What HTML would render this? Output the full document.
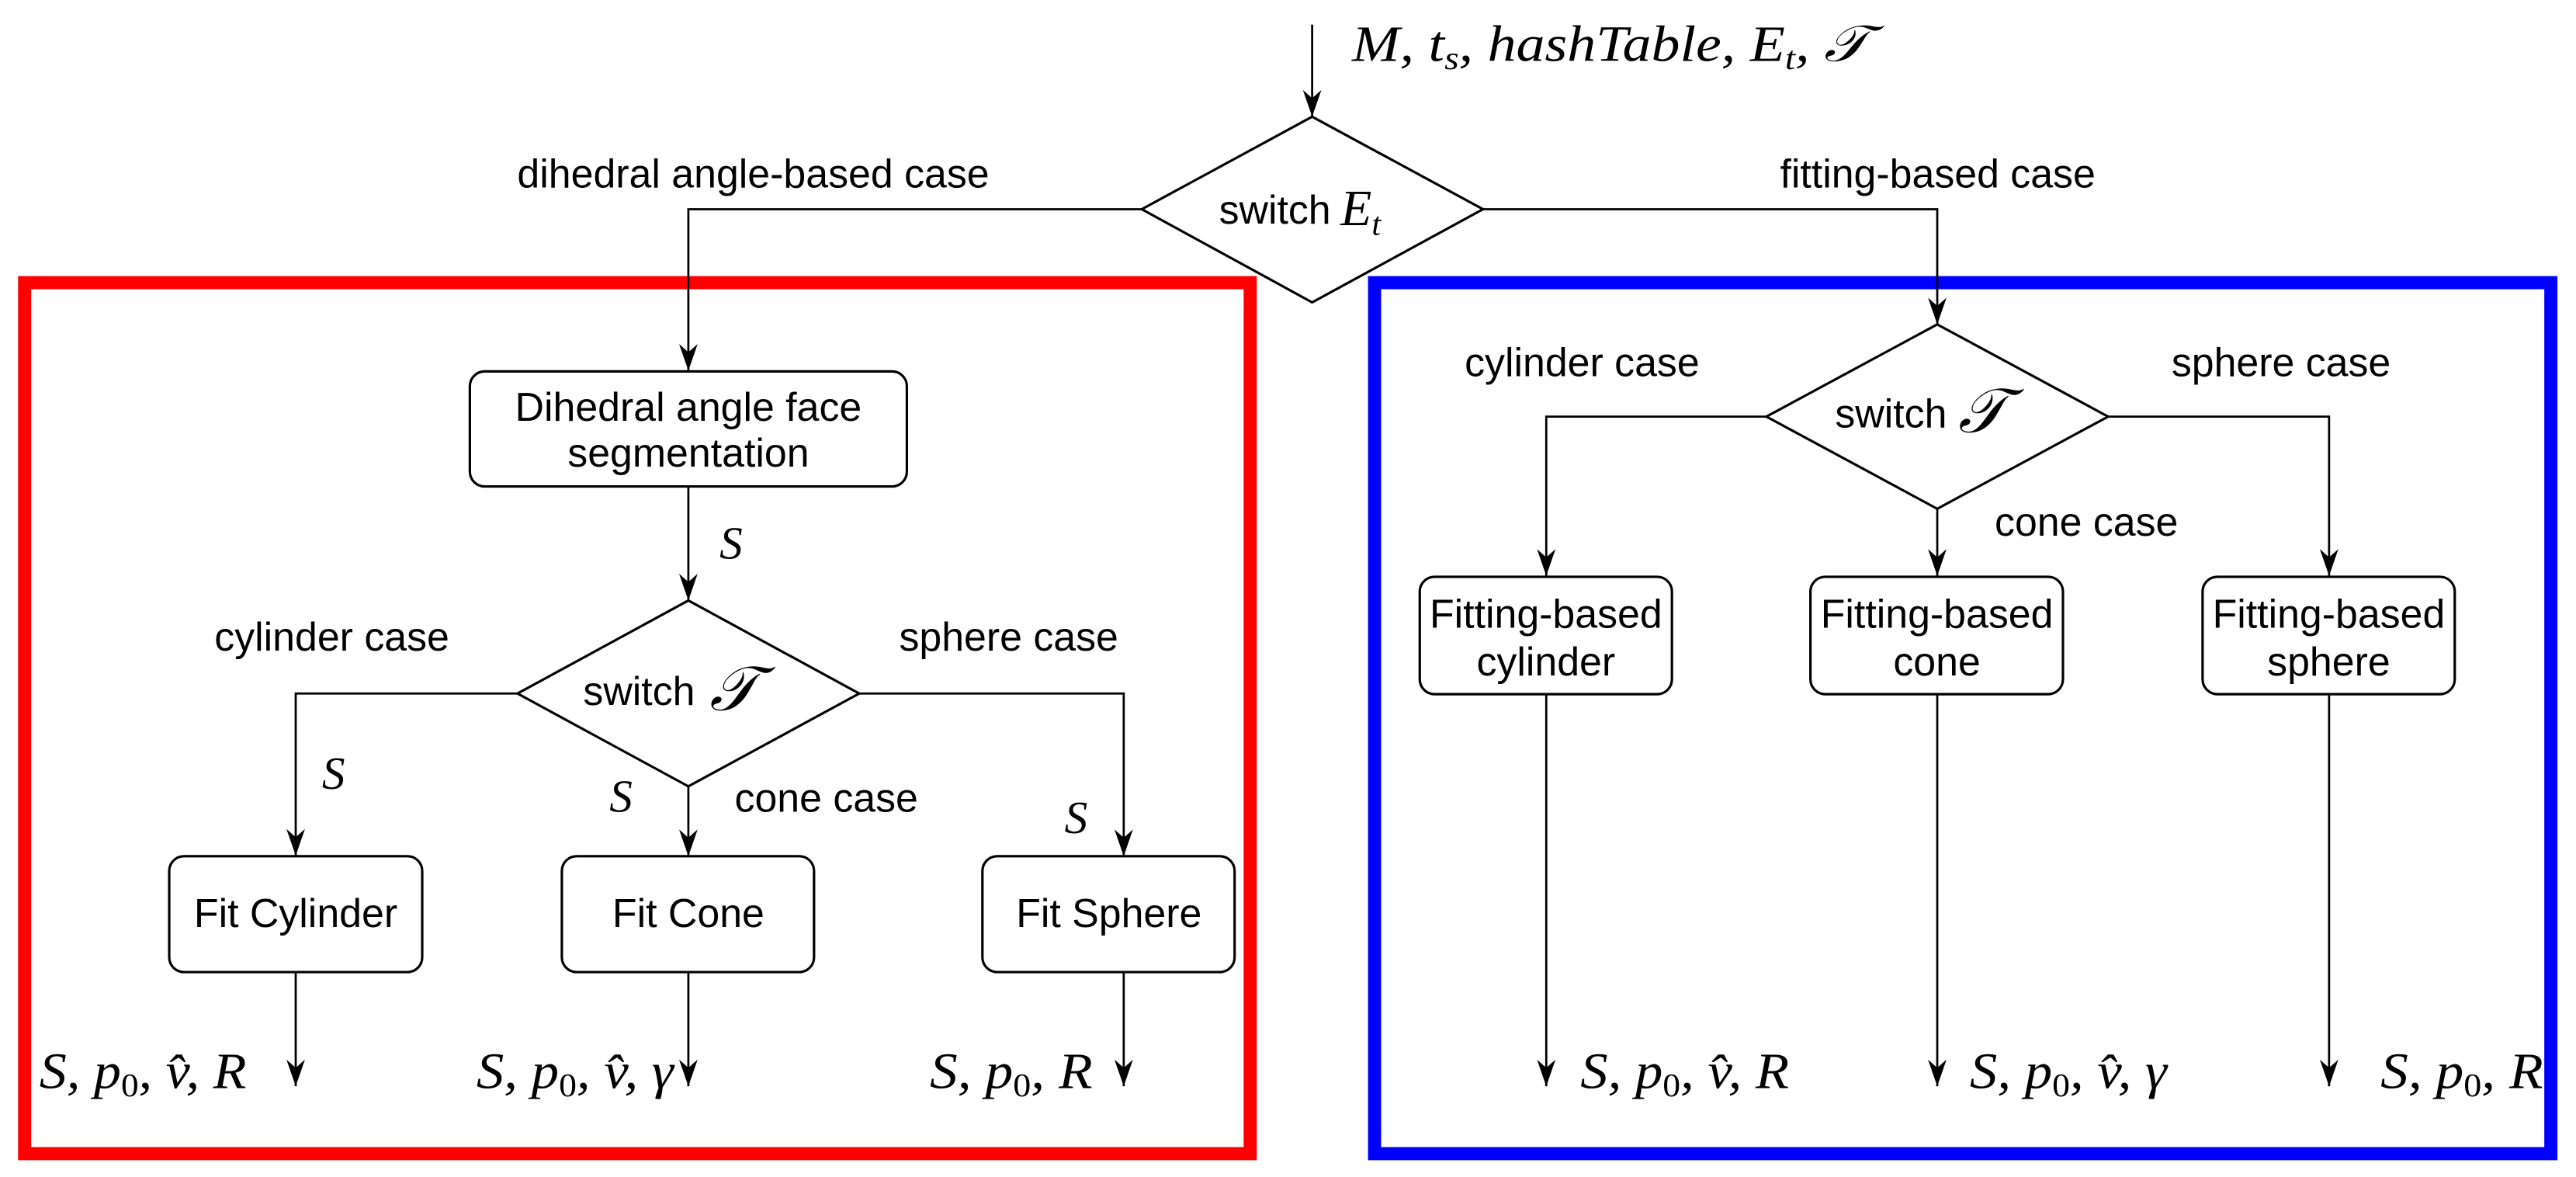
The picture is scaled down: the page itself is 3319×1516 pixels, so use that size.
<!DOCTYPE html>
<html><head><meta charset="utf-8"><style>
html,body{margin:0;padding:0;background:#fff}
svg{display:block}
.t{font-family:"Liberation Sans",Arial,sans-serif;font-size:24.5px;fill:#000}
.m{font-family:"Liberation Serif","DejaVu Serif",serif;font-style:italic;font-size:31px;fill:#000}
.r{font-style:normal}
</style></head><body>
<svg width="3319" height="1516" viewBox="0 0 1568 716.2" xmlns="http://www.w3.org/2000/svg">
<defs>
<marker id="a" markerUnits="userSpaceOnUse" markerWidth="20" markerHeight="20" refX="0" refY="0" viewBox="-15 -8 16 16" orient="auto">
<path d="M0,0 L-13,-4.5 L-9,0 L-13,4.5 Z" fill="#000"/>
</marker>
</defs>
<rect x="15" y="172" width="746" height="530" fill="none" stroke="#ff0000" stroke-width="8"/>
<rect x="836.7" y="172" width="716" height="530" fill="none" stroke="#0000ff" stroke-width="8"/>
<g fill="none" stroke="#000" stroke-width="1.3">
<path d="M798.7,15 V71" marker-end="url(#a)"/>
<path d="M695,127.3 H419 V225.6" marker-end="url(#a)"/>
<path d="M419,296 V365.4" marker-end="url(#a)"/>
<path d="M315,422 H180 V520.7" marker-end="url(#a)"/>
<path d="M419,478.5 V521" marker-end="url(#a)"/>
<path d="M523,422 H684 V521" marker-end="url(#a)"/>
<path d="M180,591.5 V661" marker-end="url(#a)"/>
<path d="M419,591.5 V661" marker-end="url(#a)"/>
<path d="M684,591.5 V661" marker-end="url(#a)"/>
<path d="M902.7,127.3 H1179.2 V197.4" marker-end="url(#a)"/>
<path d="M1075.2,253.5 H941.2 V350.4" marker-end="url(#a)"/>
<path d="M1179.2,309.6 V350.4" marker-end="url(#a)"/>
<path d="M1283.2,253.5 H1417.7 V350.4" marker-end="url(#a)"/>
<path d="M941.2,422.4 V661" marker-end="url(#a)"/>
<path d="M1179.2,422.4 V661" marker-end="url(#a)"/>
<path d="M1417.7,422.4 V661" marker-end="url(#a)"/>
</g>
<g fill="#fff" stroke="#000" stroke-width="1.5">
<polygon points="798.7,71 902.7,127.3 798.7,184 695,127.3"/>
<polygon points="419,365.4 523,422 419,478.5 315,422"/>
<polygon points="1179.2,197.4 1283.2,253.5 1179.2,309.6 1075.2,253.5"/>
<rect x="286" y="226" width="266" height="70" rx="9"/>
<rect x="103" y="521" width="154" height="70.5" rx="9"/>
<rect x="342" y="521" width="153.5" height="70.5" rx="9"/>
<rect x="598" y="521" width="153.5" height="70.5" rx="9"/>
<rect x="864.2" y="351" width="153.5" height="71.4" rx="9"/>
<rect x="1102" y="351" width="153.7" height="71.4" rx="9"/>
<rect x="1340.7" y="351" width="153.5" height="71.4" rx="9"/>
</g>
<g class="t" text-anchor="middle">
<text x="458.5" y="114">dihedral angle-based case</text>
<text x="1179.5" y="114">fitting-based case</text>
<text x="419" y="256">Dihedral angle face</text>
<text x="419" y="284">segmentation</text>
<text x="202" y="396">cylinder case</text>
<text x="614" y="396">sphere case</text>
<text x="503" y="494">cone case</text>
<text x="180" y="564">Fit Cylinder</text>
<text x="419" y="564">Fit Cone</text>
<text x="675" y="564">Fit Sphere</text>
<text x="963" y="229">cylinder case</text>
<text x="1388.5" y="229">sphere case</text>
<text x="1270" y="326">cone case</text>
<text x="941" y="382">Fitting-based</text>
<text x="941" y="411">cylinder</text>
<text x="1179" y="382">Fitting-based</text>
<text x="1179" y="411">cone</text>
<text x="1417.5" y="382">Fitting-based</text>
<text x="1417.5" y="411">sphere</text>
</g>
<g class="t">
<text x="742" y="136">switch</text>
<text x="355" y="429">switch</text>
<text x="1117" y="260">switch</text>
</g>
<g class="m">
<text x="823" y="37" textLength="314" lengthAdjust="spacingAndGlyphs">M, t<tspan font-size="20" dy="5">s</tspan><tspan dy="-5">, hashTable, E</tspan><tspan font-size="20" dy="5">t</tspan><tspan dy="-5">, 𝒯</tspan></text>
<text x="816" y="137">E<tspan font-size="20" dy="6">t</tspan></text>
<text x="432" y="432" font-size="38">𝒯</text>
<text x="1192" y="263" font-size="38">𝒯</text>
<text x="438" y="340" font-size="28">S</text>
<text x="196" y="480" font-size="28">S</text>
<text x="371" y="494" font-size="28">S</text>
<text x="648" y="507" font-size="28">S</text>
<text x="24" y="662" textLength="126" lengthAdjust="spacingAndGlyphs">S, p<tspan font-size="20" class="r" dy="5">0</tspan><tspan dy="-5">, v̂, R</tspan></text>
<text x="290" y="662" textLength="120" lengthAdjust="spacingAndGlyphs">S, p<tspan font-size="20" class="r" dy="5">0</tspan><tspan dy="-5">, v̂, γ</tspan></text>
<text x="566" y="662" textLength="99" lengthAdjust="spacingAndGlyphs">S, p<tspan font-size="20" class="r" dy="5">0</tspan><tspan dy="-5">, R</tspan></text>
<text x="962" y="662" textLength="127" lengthAdjust="spacingAndGlyphs">S, p<tspan font-size="20" class="r" dy="5">0</tspan><tspan dy="-5">, v̂, R</tspan></text>
<text x="1199" y="662" textLength="120" lengthAdjust="spacingAndGlyphs">S, p<tspan font-size="20" class="r" dy="5">0</tspan><tspan dy="-5">, v̂, γ</tspan></text>
<text x="1449" y="662" textLength="99" lengthAdjust="spacingAndGlyphs">S, p<tspan font-size="20" class="r" dy="5">0</tspan><tspan dy="-5">, R</tspan></text>
</g>
</svg>
</body></html>
